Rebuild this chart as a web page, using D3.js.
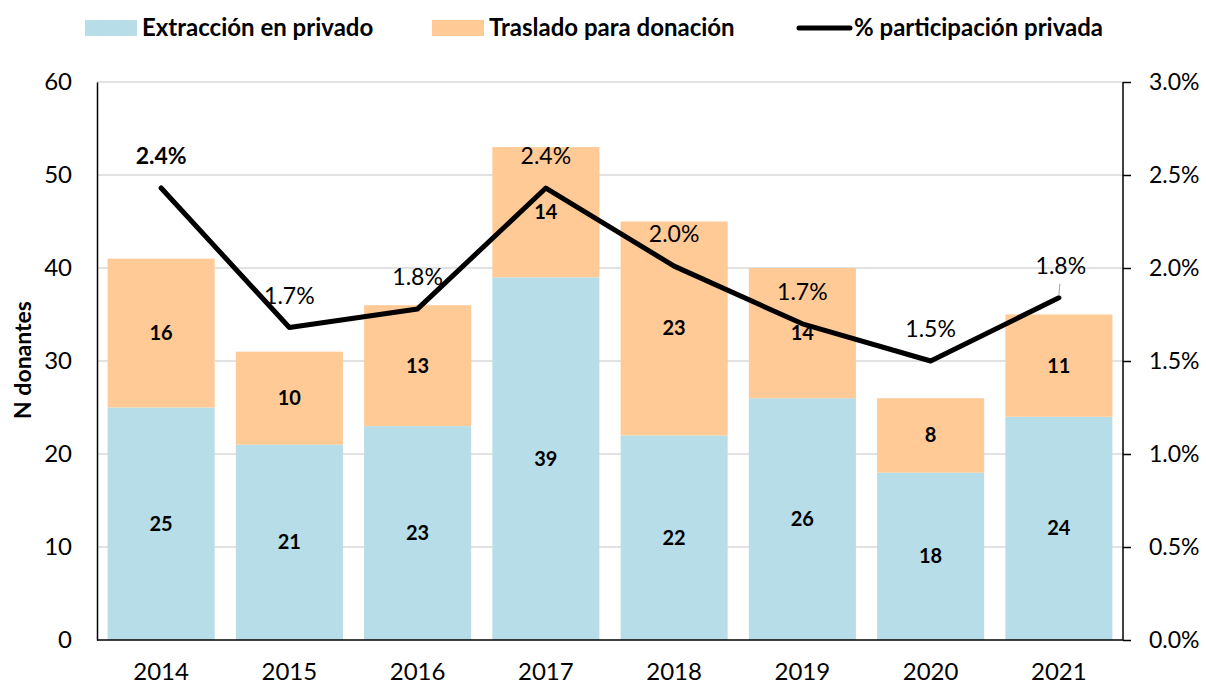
<!DOCTYPE html>
<html>
<head>
<meta charset="utf-8">
<script src="https://cdn.jsdelivr.net/npm/d3@7"></script>
<style>
  html, body { margin: 0; padding: 0; background: #fff; }
  svg { display: block; font-family: Lato, "Noto Sans", sans-serif; }
</style>
</head>
<body>
<svg id="chart" width="1206" height="685"></svg>
<script>
const years = ["2014","2015","2016","2017","2018","2019","2020","2021"];
const extraccion = [25,21,23,39,22,26,18,24];
const traslado = [16,10,13,14,23,14,8,11];
const participacion = [2.43,1.68,1.78,2.43,2.01,1.70,1.50,1.84];
const leftTicks = [0,10,20,30,40,50,60];
const rightTicks = [0,0.5,1.0,1.5,2.0,2.5,3.0];
const seriesNames = ["Extracción en privado","Traslado para donación","% participación privada"];
const colors = {extr:"#B7DEE8", tras:"#FFCA96", line:"#000000", grid:"#D9D9D9"};

const W = 1206, H = 685;
const m = {top: 82, right: 83, bottom: 45, left: 97};
const iw = W - m.left - m.right, ih = H - m.top - m.bottom;
const svg = d3.select("#chart");
const g = svg.append("g").attr("transform", `translate(${m.left},${m.top})`);

const x = d3.scaleBand().domain(years).range([0, iw]).paddingInner(0.165).paddingOuter(0.0825);
const y = d3.scaleLinear().domain([0, 60]).range([ih, 0]);
const y2 = d3.scaleLinear().domain([0, 3]).range([ih, 0]);

// gridlines
g.append("g").selectAll("line").data(leftTicks.filter(d => d > 0)).join("line")
  .attr("x1", 0).attr("x2", iw).attr("y1", d => y(d)).attr("y2", d => y(d))
  .attr("stroke", colors.grid).attr("stroke-width", 1.5);

// bars
const stackData = years.map((yr, i) => ({yr, e: extraccion[i], t: traslado[i]}));
g.append("g").selectAll("rect").data(stackData).join("rect")
  .attr("x", d => x(d.yr)).attr("width", x.bandwidth())
  .attr("y", d => y(d.e)).attr("height", d => y(0) - y(d.e))
  .attr("fill", colors.extr);
g.append("g").selectAll("rect").data(stackData).join("rect")
  .attr("x", d => x(d.yr)).attr("width", x.bandwidth())
  .attr("y", d => y(d.e + d.t)).attr("height", d => y(d.e) - y(d.e + d.t))
  .attr("fill", colors.tras);

// bar labels
const barLab = g.append("g").attr("font-weight", "bold").attr("font-size", 20).attr("text-anchor", "middle").attr("fill", "#000");
barLab.selectAll("text.e").data(stackData).join("text").attr("class","e")
  .attr("x", d => x(d.yr) + x.bandwidth()/2).attr("y", d => y(d.e/2)).attr("dy", "0.35em").text(d => d.e);
barLab.selectAll("text.t").data(stackData).join("text").attr("class","t")
  .attr("x", d => x(d.yr) + x.bandwidth()/2).attr("y", d => y(d.e + d.t/2)).attr("dy", "0.35em").text(d => d.t);

// axes
const axL = g.append("g").call(d3.axisLeft(y).tickValues(leftTicks).tickSize(0).tickPadding(25));
axL.select(".domain").attr("stroke", "#000").attr("stroke-width", 1.5);
axL.selectAll("text").attr("font-size", 24).attr("fill", "#000").style("font-family", "Lato, sans-serif");

const axR = g.append("g").attr("transform", `translate(${iw},0)`)
  .call(d3.axisRight(y2).tickValues(rightTicks).tickSize(8).tickPadding(18).tickFormat(d => d.toFixed(1) + "%"));
axR.select(".domain").attr("stroke", "#000").attr("stroke-width", 1.5).attr("d", `M0,0V${ih}`);
axR.selectAll(".tick line").attr("stroke", "#000").attr("stroke-width", 1.5);
axR.selectAll("text").attr("font-size", 23).attr("fill", "#000").style("font-family", "Lato, sans-serif");

const axB = g.append("g").attr("transform", `translate(0,${ih})`).call(d3.axisBottom(x).tickSize(0).tickPadding(23));
axB.select(".domain").attr("stroke", "#000").attr("stroke-width", 1.5).attr("d", `M0,0H${iw}`);
axB.selectAll("text").attr("font-size", 24).attr("fill", "#000").style("font-family", "Lato, sans-serif");

// line
const pts = years.map((yr, i) => ({yr, v: participacion[i], i}));
const line = d3.line().x(d => x(d.yr) + x.bandwidth()/2).y(d => y2(d.v));
g.append("path").datum(pts).attr("d", line).attr("fill", "none")
  .attr("stroke", colors.line).attr("stroke-width", 5).attr("stroke-linejoin", "round").attr("stroke-linecap", "round");

// line labels
const last = pts.length - 1;
g.append("line")
  .attr("x1", x(years[last]) + x.bandwidth()/2 + 1).attr("x2", x(years[last]) + x.bandwidth()/2)
  .attr("y1", y2(participacion[last]) - 14).attr("y2", y2(participacion[last]) - 2)
  .attr("stroke", "#A6A6A6").attr("stroke-width", 1);
g.append("g").selectAll("text").data(pts).join("text")
  .attr("x", d => x(d.yr) + x.bandwidth()/2 + (d.i === last ? 2 : 0))
  .attr("y", d => y2(d.v) - 32).attr("dy", "0.35em")
  .attr("text-anchor", "middle").attr("font-size", 23)
  .attr("font-weight", d => d.i === 0 ? "bold" : "normal")
  .text(d => d.v.toFixed(1) + "%");

// y title
svg.append("text").attr("transform", `translate(31,${m.top + ih/2 - 1}) rotate(-90)`)
  .attr("text-anchor", "middle").attr("font-weight", "bold").attr("font-size", 23).text("N donantes");

// legend
const lg = svg.append("g").attr("font-weight", "bold").attr("font-size", 24);
const legX = [85, 432, 797];
lg.append("rect").attr("x", legX[0]).attr("y", 20).attr("width", 52).attr("height", 16).attr("fill", colors.extr);
lg.append("rect").attr("x", legX[1]).attr("y", 20).attr("width", 52).attr("height", 16).attr("fill", colors.tras);
lg.append("line").attr("x1", legX[2] + 2).attr("x2", legX[2] + 53).attr("y1", 28).attr("y2", 28)
  .attr("stroke", "#000").attr("stroke-width", 5).attr("stroke-linecap", "round");
lg.selectAll("text").data(seriesNames).join("text")
  .attr("x", (d, i) => legX[i] + 57).attr("y", 28).attr("dy", "0.35em").text(d => d);
</script>
</body>
</html>
